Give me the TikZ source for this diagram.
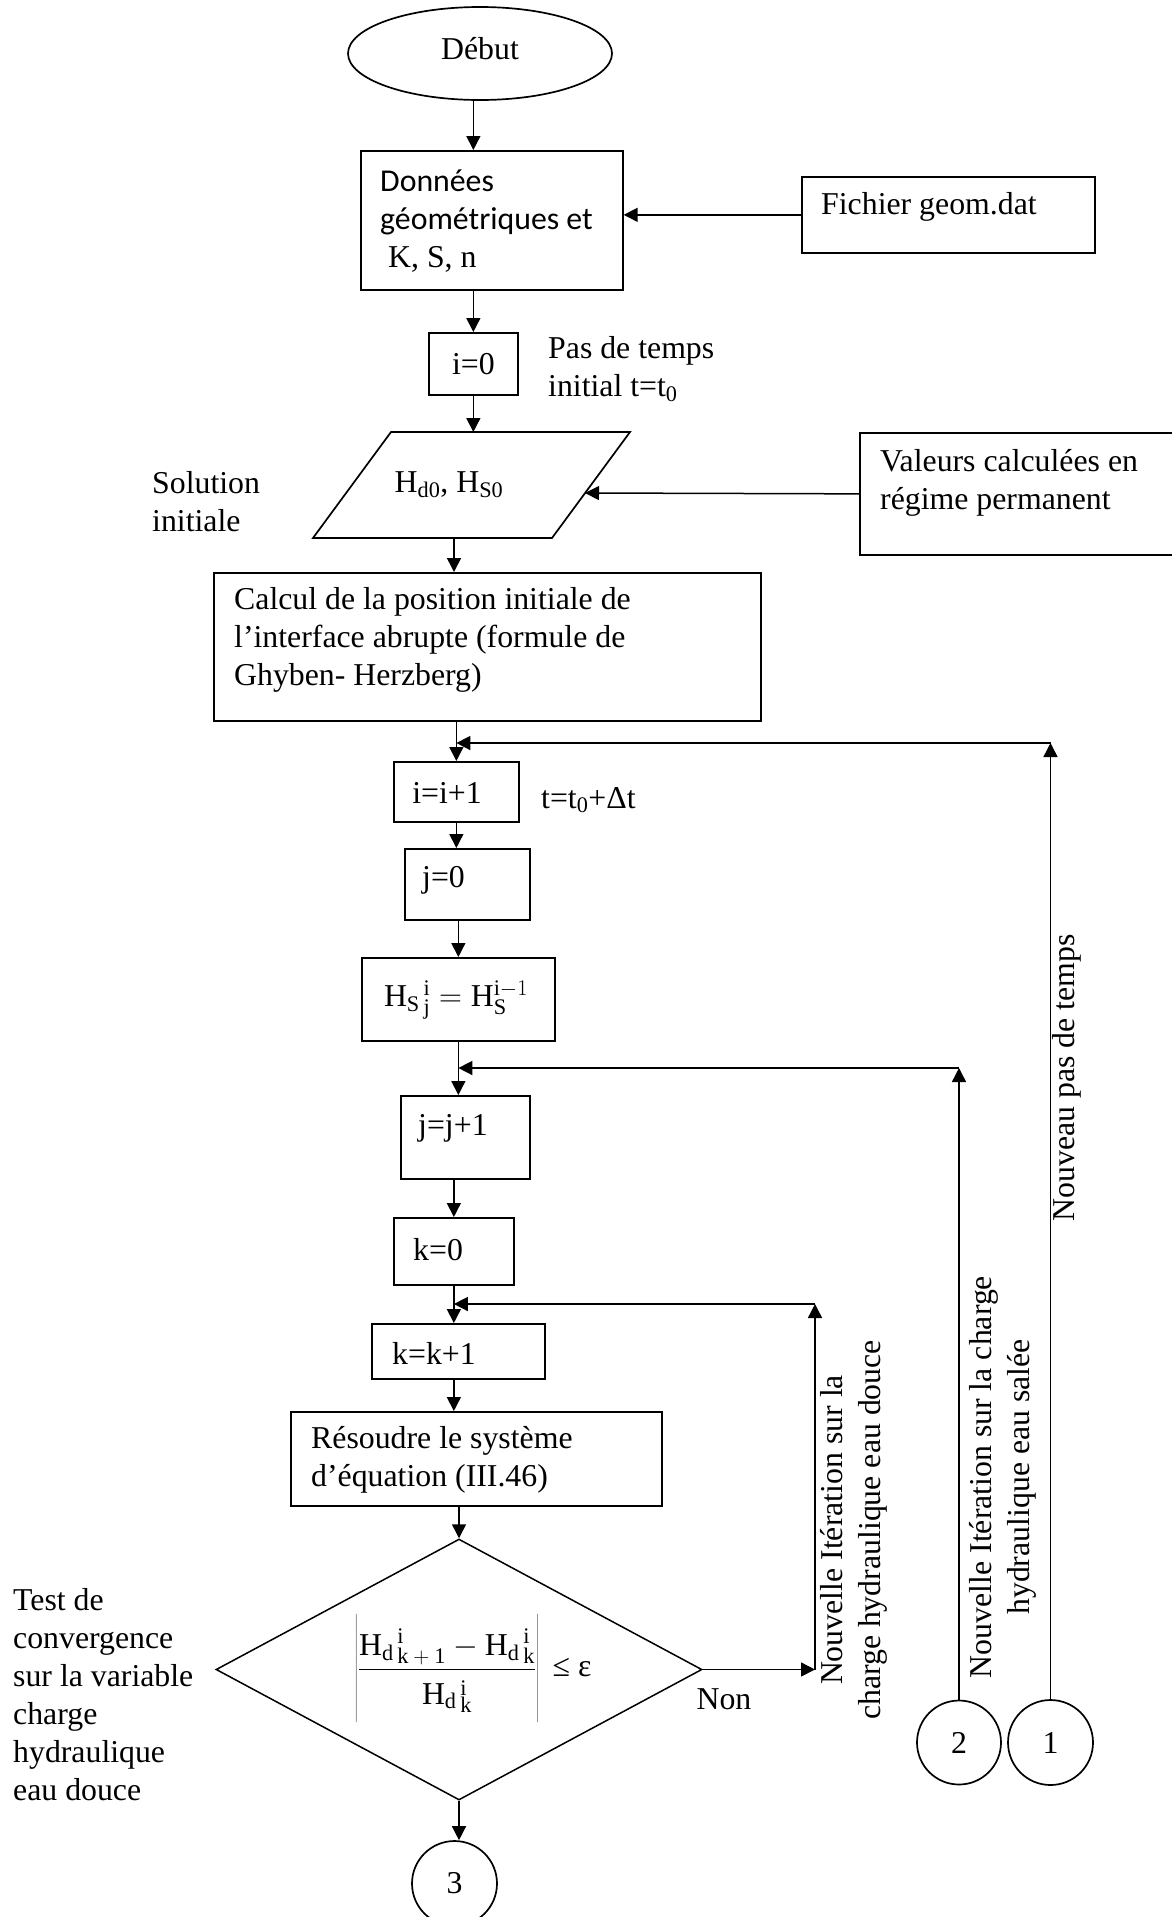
\RequirePackage{fix-cm}
\documentclass[tikz,border=0pt]{standalone}
\usepackage{fontspec}
\setmainfont{Liberation Serif}
\newfontfamily\calib{Carlito}
\usetikzlibrary{arrows.meta,shapes.geometric}
\newcommand{\Hsc}[2]{\mathrm{H}_{\mathrm{#1}}{}^{\,\mathrm{i}}_{\,#2}}
\begin{document}
\begin{tikzpicture}[x=1pt,y=-1pt,
  every node/.style={font=\fontsize{31.8}{38}\selectfont, inner sep=0pt},
  box/.style={draw, line width=1.7pt, anchor=north west},
  rnd/.style={draw, line width=1.7pt},
  arr/.style={line width=1.5pt, -{Triangle[length=14pt,width=14pt]}},
  txt/.style={anchor=west, align=left},
  vtxt/.style={rotate=90, align=center}]
\useasboundingbox (0,0) rectangle (1172,1917);
\fill[white] (0,0) rectangle (1172,1917);
\clip (0,0) rectangle (1172,1917);

% start
\node[rnd, ellipse, minimum width=264pt, minimum height=93pt] (debut) at (480,53.5) {\raisebox{5pt}[\height][\depth]{Début}};

% data box
\node[box, minimum width=262pt, minimum height=139pt] (don) at (360,150) {};
\node[txt] (donT) at (380,221.5) {{\calib Données}\\{\calib géométriques et}\\\hspace*{8pt}K, S, n};
\node[box, minimum width=293pt, minimum height=76pt] (fich) at (801,176) {};
\node[txt] (fichT) at (821,207) {Fichier geom.dat};
\draw[arr] (fich.west) -- (fich.west -| don.east);

% i=0
\node[box, minimum width=89pt, minimum height=62pt] (i0) at (428,332) {i=0};
\draw[arr] (debut.south -| i0.north) -- (i0.north |- don.north);
\draw[arr] (don.south -| i0.north) -- (i0.north);
\node[txt] (pasT) at (548,369) {Pas de temps\\initial t=t\textsubscript{0}};

% parallelogram
\coordinate (p1) at (391,432);
\coordinate (p2) at (630,432);
\coordinate (p3) at (552,538);
\coordinate (p4) at (313,538);
\draw[line width=1.7pt] (p1) -- (p2) -- (p3) -- (p4) -- cycle;
\node (para) at (449,485) {H\textsubscript{d0}, H\textsubscript{S0}};
\draw[arr] (i0.south) -- (i0.south |- p1);
\node[txt] (solT) at (152,501.5) {Solution\\initiale};
\node[box, minimum width=330pt, minimum height=122pt] (val) at (859,432) {};
\node[txt] (valT) at (880,482.5) {Valeurs calculées en\\régime permanent};
\coordinate (paraR) at (585,493);
\draw[arr] (val.west) -- (paraR);

% calcul
\node[box, minimum width=547pt, minimum height=148pt] (calc) at (213,572) {};
\node[txt] (calcT) at (234,640) {Calcul de la position initiale de\\l’interface abrupte (formule de\\Ghyben- Herzberg)};
\coordinate (paraB) at (454,538);
\draw[arr] (paraB) -- (paraB |- calc.north);

% i=i+1
\node[box, minimum width=125pt, minimum height=60pt] (ii1) at (393,761) {};
\node (ii1T) at (447,793) {i=i+1};
\draw[arr] (calc.south -| ii1.north) -- (ii1.north);
\node[txt] (tT) at (541,800) {t=t\textsubscript{0}+Δt};

% j=0
\node[box, minimum width=125pt, minimum height=71pt] (j0) at (404,848) {};
\node[txt] (j0T) at (422,880) {j=0};
\draw[arr] (ii1.south) -- (ii1.south |- j0.north);

% HS
\node[box, minimum width=193pt, minimum height=83pt] (hs) at (361,957) {};
\node (hsT) at (456,1000) {$\Hsc{S}{\mathrm{j}} = \mathrm{H}_{\mathrm{S}}^{\mathrm{i}-1}$};
\draw[arr] (hs.north |- j0.south) -- (hs.north);

% j=j+1
\node[box, minimum width=129pt, minimum height=83pt] (jj1) at (400,1095) {};
\node[txt] (jj1T) at (418,1128) {j=j+1};
\draw[arr] (hs.south) -- (hs.south |- jj1.north);

% k=0
\node[box, minimum width=120pt, minimum height=67pt] (k0) at (393,1217) {};
\node[txt] (k0T) at (413,1250) {k=0};
\draw[arr] (k0.north |- jj1.south) -- (k0.north);

% k=k+1
\node[box, minimum width=173pt, minimum height=55pt] (kk1) at (371,1323) {};
\node[txt] (kk1T) at (392,1353) {k=k+1};
\draw[arr] (k0.south) -- (k0.south |- kk1.north);

% resoudre
\node[box, minimum width=371pt, minimum height=94pt] (res) at (290,1411) {};
\node[txt] (resT) at (311,1460) {Résoudre le système\\d’équation (III.46)};
\draw[arr] (kk1.south -| k0.south) -- (k0.south |- res.north);

% diamond
\node[draw, diamond, line width=1.5pt, minimum width=486pt, minimum height=261pt] (dia) at (459,1669.5) {};
\draw[arr] (dia.north |- res.south) -- (dia.north);
\node (form) at (473,1669) {$\displaystyle\left|\frac{\Hsc{d}{\mathrm{k}\mskip4mu{+}\mskip4mu\mathrm{1}} - \Hsc{d}{\mathrm{k}}}{\rule[-19pt]{0pt}{53pt}\Hsc{d}{\mathrm{k}}}\right|\mbox{ ≤ ε}$};
\node (nonT) at (724,1699) {Non};
\node[txt] (testT) at (13,1695) {Test de\\convergence\\sur la variable\\charge\\hydraulique\\eau douce};

% connectors circles
\node[rnd, circle, minimum size=85pt] (c3) at (454.5,1883.5) {3};
\draw[arr] (dia.south) -- (dia.south |- c3.north);
\node[rnd, circle, minimum size=84pt] (c2) at (959,1742.5) {2};
\node[rnd, circle, minimum size=85pt] (c1) at (1050.5,1742.5) {1};

% loops
\coordinate (t1) at (c1.north |- 0,743);
\draw[arr] (c1.north) -- (t1);
\draw[arr] (t1) -- (t1 -| ii1.north);
\coordinate (t2) at (c2.north |- 0,1068);
\draw[arr] (c2.north) -- (t2);
\draw[arr] (t2) -- (t2 -| hs.south);
\coordinate (t3a) at (dia.east -| 815,0);
\coordinate (t3b) at (815,1304);
\draw[arr] (dia.east) -- (t3a);
\draw[arr] (t3a) -- (t3b);
\draw[arr] (t3b) -- (t3b -| k0.south);

% vertical labels
\node[vtxt] (douceT) at (854,1530) {Nouvelle Itération sur la\\charge hydraulique eau douce};
\node[vtxt] (saleeT) at (1003,1477) {Nouvelle Itération sur la charge\\hydraulique eau salée};
\node[vtxt] (nouvT) at (1067,1078) {Nouveau pas de temps};
\end{tikzpicture}
\end{document}
